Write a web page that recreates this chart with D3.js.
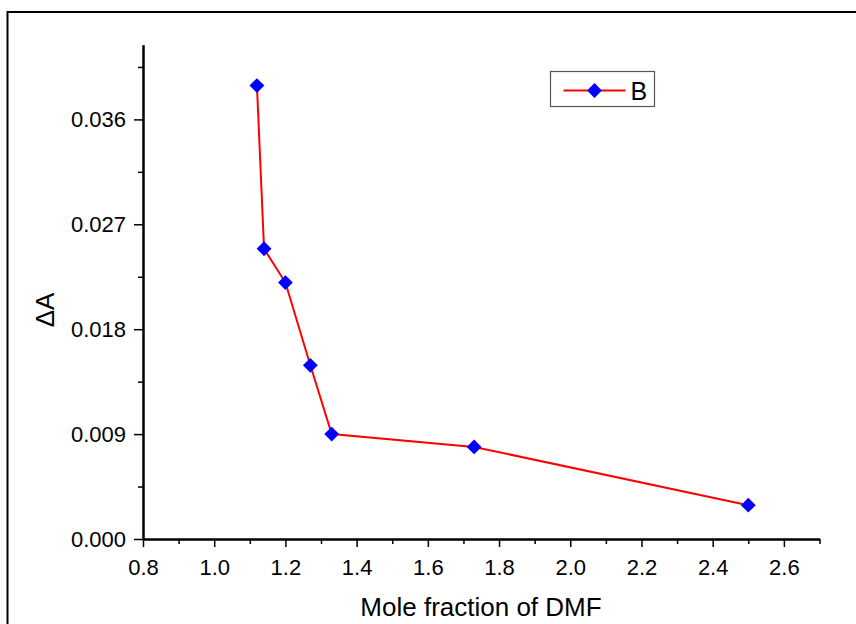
<!DOCTYPE html>
<html>
<head>
<meta charset="utf-8">
<script src="https://cdn.jsdelivr.net/npm/d3@7"></script>
<style>
  body { margin: 0; background: #fff; }
  text { font-family: Arial, "Liberation Sans", sans-serif; fill: #000; }
</style>
</head>
<body>
<div id="chart"></div>
<script>
// Data
const moleFraction = [1.12, 1.14, 1.20, 1.27, 1.33, 1.73, 2.50];
const deltaA = [0.0389, 0.0249, 0.0220, 0.0149, 0.0090, 0.0079, 0.0029];
const seriesName = "B";
const xMajorTicks = [0.8, 1.0, 1.2, 1.4, 1.6, 1.8, 2.0, 2.2, 2.4, 2.6];
const xMinorTicks = [0.9, 1.1, 1.3, 1.5, 1.7, 1.9, 2.1, 2.3, 2.5, 2.7];
const yMajorTicks = [0, 0.009, 0.018, 0.027, 0.036];
const yMinorTicks = [0.0045, 0.0135, 0.0225, 0.0315, 0.0405];

const width = 856;
const height = 624;

const svg = d3.select("#chart")
  .append("svg")
  .attr("width", width)
  .attr("height", height);

// outer frame (runs off right/bottom edge)
svg.append("path")
  .attr("d", "M7.5," + height + "V12H" + width)
  .attr("fill", "none")
  .attr("stroke", "#000")
  .attr("stroke-width", 2);

const x = d3.scaleLinear()
  .domain([0.8, 2.7])
  .range([143, 819.5]);

const y = d3.scaleLinear()
  .domain([0, 0.0424])
  .range([539, 44.8]);

// X axis
const gx = svg.append("g")
  .attr("transform", "translate(0," + y(0) + ")");
gx.call(d3.axisBottom(x).tickValues(xMajorTicks).tickSize(8).tickSizeOuter(0)
  .tickPadding(10).tickFormat(d3.format(".1f")));
gx.append("g").call(d3.axisBottom(x).tickValues(xMinorTicks).tickSize(5)
  .tickSizeOuter(0).tickFormat(""));

// Y axis
const gy = svg.append("g")
  .attr("transform", "translate(" + x(0.8) + ",0)");
gy.call(d3.axisLeft(y).tickValues(yMajorTicks).tickSize(9).tickSizeOuter(0)
  .tickPadding(8).tickFormat(d3.format(".3f")));
gy.append("g").call(d3.axisLeft(y).tickValues(yMinorTicks).tickSize(5)
  .tickSizeOuter(0).tickFormat(""));

svg.selectAll(".domain")
  .attr("stroke", "#000")
  .attr("stroke-width", 2);
svg.selectAll(".tick line")
  .attr("stroke", "#000")
  .attr("stroke-width", 1.5);
svg.selectAll(".tick text")
  .style("font-size", "22px");
gx.selectAll(".tick text").attr("dy", "0.8em");

// axis titles
svg.append("text")
  .attr("x", 481)
  .attr("y", 616)
  .attr("text-anchor", "middle")
  .style("font-size", "26px")
  .text("Mole fraction of DMF");

svg.append("text")
  .attr("transform", "translate(54,310) rotate(-90)")
  .attr("text-anchor", "middle")
  .style("font-size", "26px")
  .text("ΔA");

// series
const points = moleFraction.map(function(d, i) {
  return { x: d, y: deltaA[i] };
});

svg.append("path")
  .datum(points)
  .attr("fill", "none")
  .attr("stroke", "#ff0000")
  .attr("stroke-width", 2)
  .attr("d", d3.line()
    .x(function(d) { return x(d.x); })
    .y(function(d) { return y(d.y); }));

const marker = d3.symbol().type(d3.symbolSquare).size(110);

svg.selectAll(".pt")
  .data(points)
  .join("path")
  .attr("class", "pt")
  .attr("transform", function(d) {
    return "translate(" + x(d.x) + "," + y(d.y) + ") rotate(45)";
  })
  .attr("d", marker)
  .attr("fill", "#0000ff");

// legend
const lg = svg.append("g").attr("transform", "translate(550.5,71.5)");
lg.append("rect")
  .attr("width", 104)
  .attr("height", 35)
  .attr("fill", "#fff")
  .attr("stroke", "#555")
  .attr("stroke-width", 1.2);
lg.append("line")
  .attr("x1", 13).attr("x2", 75)
  .attr("y1", 19).attr("y2", 19)
  .attr("stroke", "#ff0000")
  .attr("stroke-width", 2);
lg.append("path")
  .attr("transform", "translate(44,19) rotate(45)")
  .attr("d", marker)
  .attr("fill", "#0000ff");
lg.append("text")
  .attr("x", 80)
  .attr("y", 28)
  .style("font-size", "25px")
  .text(seriesName);
</script>
</body>
</html>
